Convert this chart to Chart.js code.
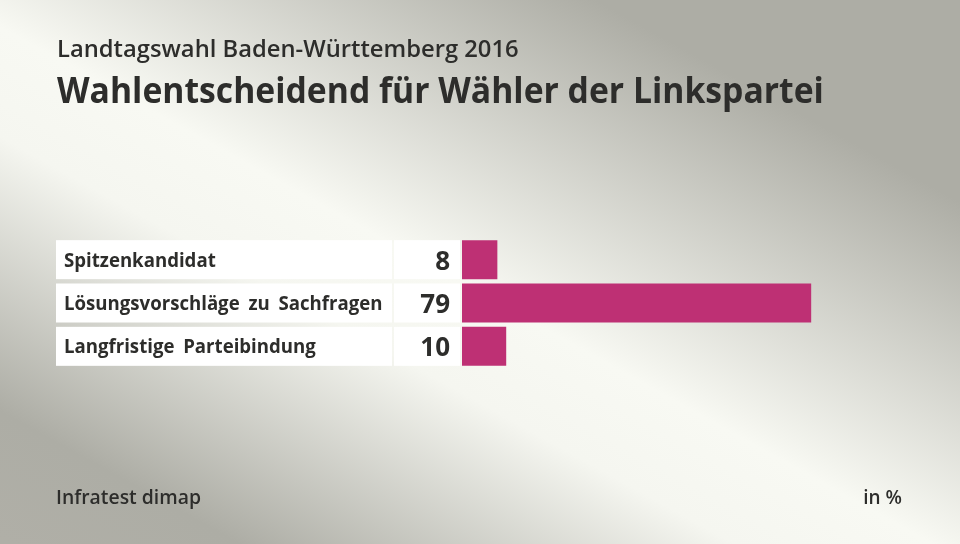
<!DOCTYPE html>
<html>
<head>
<meta charset="utf-8">
<script src="https://cdn.jsdelivr.net/npm/chart.js@4"></script>
<style>
  html, body { margin: 0; padding: 0; }
  canvas { display: block; }
</style>
</head>
<body>
<canvas id="chart" width="960" height="544"></canvas>
<script>
const categories = ['Spitzenkandidat', 'Lösungsvorschläge zu Sachfragen', 'Langfristige Parteibindung'];
const values = [8, 79, 10];
const subtitle = 'Landtagswahl Baden-Württemberg 2016';
const title = 'Wahlentscheidend für Wähler der Linkspartei';
const source = 'Infratest dimap';
const unit = 'in %';

const textColor = '#2d2d2b';
const barColor = '#be3074';
const font = '"Open Sans", "Noto Sans", sans-serif';

// text is drawn slightly stretched/condensed to get close to the original typeface
function drawText(ctx, text, x, y, f, align, squeeze, gap) {
    ctx.save();
    ctx.font = f;
    ctx.fillStyle = textColor;
    ctx.textBaseline = 'alphabetic';
    ctx.textAlign = align || 'left';
    if (gap) ctx.wordSpacing = gap;
    ctx.translate(x, y);
    ctx.scale(squeeze || 1, 1);
    ctx.fillText(text, 0, 0);
    ctx.restore();
}

const backdrop = {
    id: 'backdrop',
    beforeDraw(chart) {
        const ctx = chart.ctx;
        const g = ctx.createLinearGradient(326, 720, 714, 20);
        g.addColorStop(0, '#b0afa7');
        g.addColorStop(0.14, '#adada5');
        g.addColorStop(0.44, '#f5f6f0');
        g.addColorStop(0.56, '#f8f9f3');
        g.addColorStop(0.95, '#adada5');
        g.addColorStop(1, '#adada5');
        ctx.save();
        ctx.fillStyle = g;
        ctx.fillRect(0, 0, chart.width, chart.height);
        ctx.restore();
    },
    beforeDatasetsDraw(chart) {
        const ctx = chart.ctx;
        const bars = chart.getDatasetMeta(0).data;
        bars.forEach((bar, i) => {
            const top = bar.y - bar.height / 2;
            ctx.save();
            ctx.fillStyle = '#ffffff';
            ctx.fillRect(56, top, 336, bar.height);
            ctx.fillRect(394, top, 66, bar.height);
            ctx.restore();
            drawText(ctx, categories[i], 64, bar.y + 7, 'bold 19px ' + font, 'left', 0.98, '4px');
            drawText(ctx, String(values[i]), 450, bar.y + 10, 'bold 26px ' + font, 'right', 1);
        });
    },
    afterDraw(chart) {
        const ctx = chart.ctx;
        drawText(ctx, subtitle, 57, 57, '600 24px ' + font, 'left', 0.99);
        drawText(ctx, title, 57, 103, 'bold 35px ' + font, 'left', 0.963);
        drawText(ctx, source, 56, 504, '600 19px ' + font, 'left', 1.02);
        drawText(ctx, unit, 902, 504, '600 19px ' + font, 'right', 1.0);
    }
};

new Chart(document.getElementById('chart'), {
    type: 'bar',
    data: {
        labels: categories,
        datasets: [{
            data: values,
            backgroundColor: barColor,
            borderWidth: 0,
            barPercentage: 0.9,
            categoryPercentage: 1
        }]
    },
    options: {
        indexAxis: 'y',
        responsive: false,
        animation: false,
        layout: {
            padding: { left: 462, right: 56, top: 238, bottom: 176 }
        },
        scales: {
            x: { display: false, min: 0, max: 100 },
            y: { display: false }
        },
        plugins: {
            legend: { display: false },
            tooltip: { enabled: false }
        }
    },
    plugins: [backdrop]
});
</script>
</body>
</html>
